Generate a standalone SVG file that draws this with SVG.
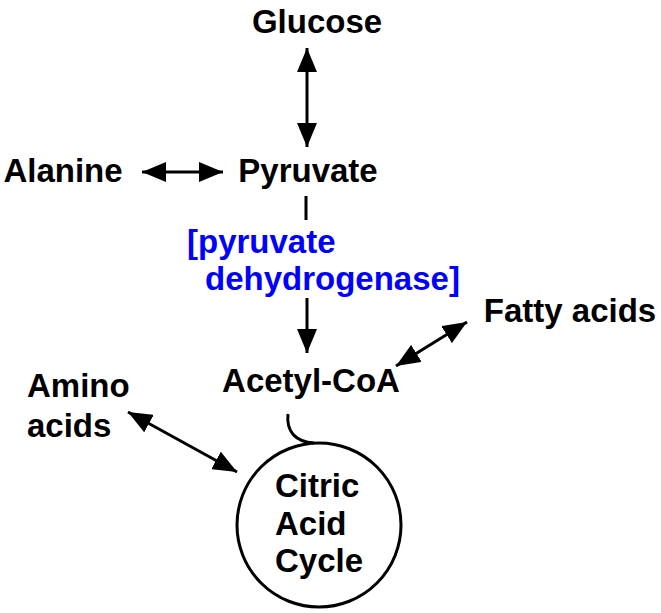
<svg xmlns="http://www.w3.org/2000/svg" width="661" height="613" viewBox="0 0 661 613">
<style>
.t{font-family:"Liberation Sans",Arial,sans-serif;font-weight:bold;font-size:33px;fill:#000}
.b{fill:#0000ff}
.c{stroke:#000;stroke-width:3;fill:none}
</style>
<defs>
<marker id="ah" viewBox="0 0 24 20" refX="24" refY="10" markerWidth="24" markerHeight="20" markerUnits="userSpaceOnUse" orient="auto-start-reverse">
<path d="M0,0 L24,10 L0,20 z" fill="#000"/>
</marker>
</defs>
<rect width="661" height="613" fill="#fff"/>
<g id="connectors">
<line class="c" x1="307" y1="48" x2="307" y2="147" marker-start="url(#ah)" marker-end="url(#ah)"/>
<line class="c" x1="142" y1="172" x2="223" y2="172" marker-start="url(#ah)" marker-end="url(#ah)"/>
<line class="c" x1="306" y1="196" x2="306" y2="220"/>
<line class="c" x1="307" y1="298" x2="307" y2="353" marker-end="url(#ah)"/>
<line class="c" x1="396" y1="366" x2="467" y2="322" marker-start="url(#ah)" marker-end="url(#ah)"/>
<line class="c" x1="128" y1="412" x2="237" y2="472" marker-start="url(#ah)" marker-end="url(#ah)"/>
<path class="c" d="M288,414 C286,432 296,442 314,443"/>
</g>
<g id="glucose"><text class="t" x="317" y="33" text-anchor="middle">Glucose</text></g>
<g id="alanine"><text class="t" x="63" y="182" text-anchor="middle">Alanine</text></g>
<g id="pyruvate"><text class="t" x="308" y="182" text-anchor="middle">Pyruvate</text></g>
<g id="enzyme"><text class="t b" x="187" y="253">[pyruvate</text><text class="t b" x="205" y="290">dehydrogenase]</text></g>
<g id="fatty-acids"><text class="t" x="570" y="322" text-anchor="middle">Fatty acids</text></g>
<g id="acetyl-coa"><text class="t" x="311" y="392" text-anchor="middle">Acetyl-CoA</text></g>
<g id="amino-acids"><text class="t" x="27" y="397">Amino</text><text class="t" x="27" y="437">acids</text></g>
<g id="citric-acid-cycle">
<circle class="c" cx="319" cy="525" r="82"/>
<text class="t" x="275" y="497">Citric</text>
<text class="t" x="275" y="535">Acid</text>
<text class="t" x="275" y="572">Cycle</text>
</g>
</svg>
